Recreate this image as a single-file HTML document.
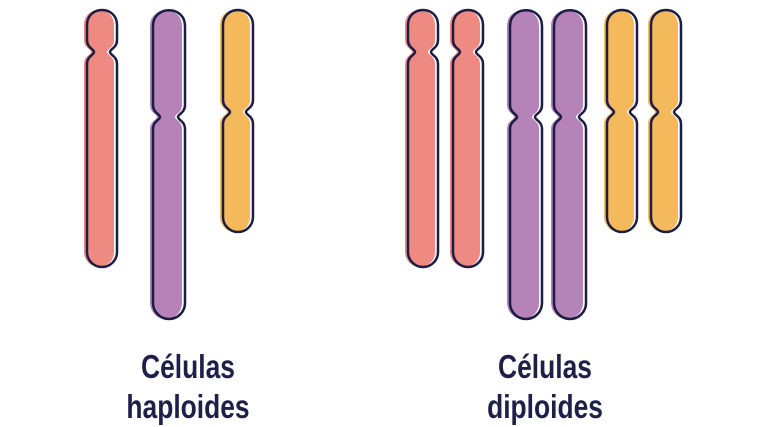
<!DOCTYPE html>
<html><head><meta charset="utf-8"><style>
html,body{margin:0;padding:0;background:#fff;width:770px;height:426px;overflow:hidden}
svg{position:absolute;left:0;top:0}
.t{position:absolute;font-family:"Liberation Sans",sans-serif;font-weight:bold;font-size:33px;color:#1e2048;text-align:center;line-height:40px;width:240px;transform:scaleX(0.8)}
</style></head><body>
<svg id="s" width="770" height="426" viewBox="0 0 770 426"></svg>
<div class="t" style="left:68px;top:347px">Células<br>haploides</div>
<div class="t" style="left:425px;top:347px">Células<br>diploides</div>
<script>
var s=document.getElementById('s'),h='';
function chr(x,t,c,b,w,col){var r=w/2,d=7,k=12;
var p='M'+x+','+(t+r+2)+' C'+x+','+(t-3)+' '+(x+w)+','+(t-3)+' '+(x+w)+','+(t+r+2)+
' L'+(x+w)+','+(c-k)+' C'+(x+w)+','+(c-4)+' '+(x+w-d)+','+(c-3)+' '+(x+w-d)+','+c+' C'+(x+w-d)+','+(c+3)+' '+(x+w)+','+(c+4)+' '+(x+w)+','+(c+k)+
' L'+(x+w)+','+(b-r)+' A'+r+','+r+' 0 0 1 '+x+','+(b-r)+
' L'+x+','+(c+k)+' C'+x+','+(c+4)+' '+(x+d)+','+(c+3)+' '+(x+d)+','+c+' C'+(x+d)+','+(c-3)+' '+x+','+(c-4)+' '+x+','+(c-k)+' Z';
h+='<path d="'+p+'" fill="'+col+'" transform="translate(-2,0)"/>';
h+='<path d="'+p+'" fill="none" stroke="#1b1d45" stroke-width="2.5" transform="translate(1,0)"/>';}
var P='#ee8a82',V='#b683b9',Y='#f4b95a';
chr(86,8,52,267,30,P);chr(152,8,117,319,32,V);chr(222,8,112,232,30,Y);
chr(407,8,52,267,30,P);chr(452,8,52,267,30,P);
chr(509,8,117,319,32,V);chr(553,8,117,319,32,V);
chr(606,8,112,232,30,Y);chr(650,8,112,232,30,Y);
s.innerHTML=h;
</script>
</body></html>
